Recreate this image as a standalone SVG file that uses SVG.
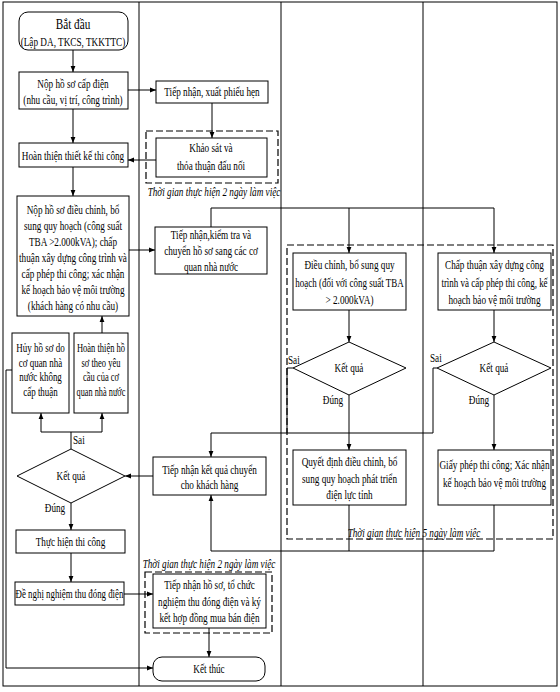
<svg xmlns="http://www.w3.org/2000/svg" width="560" height="692" viewBox="0 0 560 692">
<defs>
<marker id="ah" viewBox="0 0 10 10" refX="10" refY="5" markerWidth="6" markerHeight="6" markerUnits="userSpaceOnUse" orient="auto"><path d="M0,1 L10,5 L0,9 Z" fill="#000"/></marker>
<style>
.b{fill:#fff;stroke:#000;stroke-width:1}
.d{fill:none;stroke:#000;stroke-width:1.2;stroke-dasharray:7 3}
.f{fill:none;stroke:#000;stroke-width:1}
.c{fill:none;stroke:#000;stroke-width:1}
.a{marker-end:url(#ah)}
text{font-family:"Liberation Serif","Times New Roman",serif;font-size:11.5px;fill:#000;text-anchor:middle}
.i{font-style:italic}
.s{text-anchor:start}
.big{font-size:14px}
</style>
</defs>
<rect x="0" y="0" width="560" height="692" fill="#fff"/>
<g id="frame">
<rect class="f" x="3" y="2" width="554" height="684"/>
<line class="f" x1="139" y1="2" x2="139" y2="686"/>
<line class="f" x1="281" y1="2" x2="281" y2="686"/>
<line class="f" x1="423" y1="2" x2="423" y2="686"/>
</g>
<g id="zones">
<rect class="d" x="146" y="131" width="132" height="52"/>
<text class="i" transform="translate(214,196) scale(0.8 1)">Thời gian thực hiện 2 ngày làm việc</text>
<rect class="d" x="287" y="245" width="266" height="294"/>
<text class="i" transform="translate(414,537) scale(0.8 1)">Thời gian thực hiện 5 ngày làm việc</text>
<rect class="d" x="145" y="572" width="127" height="61"/>
<text class="i" transform="translate(209,568) scale(0.8 1)">Thời gian thực hiện 2 ngày làm việc</text>
</g>
<g id="connectors">
<line class="c a" x1="73" y1="50" x2="73" y2="72"/>
<line class="c a" x1="73" y1="109" x2="73" y2="143"/>
<line class="c a" x1="73" y1="167" x2="73" y2="196"/>
<line class="c a" x1="128" y1="90" x2="156" y2="90"/>
<line class="c a" x1="212" y1="103" x2="212" y2="138"/>
<line class="c a" x1="156" y1="160" x2="128" y2="160"/>
<line class="c a" x1="129" y1="250" x2="155" y2="250"/>
<line class="c a" x1="102" y1="333" x2="102" y2="316"/>
<polyline class="c" points="71,449 71,432"/>
<line class="c" x1="41" y1="432" x2="102" y2="432"/>
<line class="c a" x1="41" y1="432" x2="41" y2="413"/>
<line class="c a" x1="102" y1="432" x2="102" y2="413"/>
<line class="c a" x1="153" y1="476" x2="125" y2="476"/>
<line class="c a" x1="71" y1="503" x2="71" y2="530"/>
<line class="c a" x1="71" y1="553" x2="71" y2="582"/>
<line class="c a" x1="124" y1="594" x2="153" y2="594"/>
<line class="c a" x1="209" y1="628" x2="209" y2="657"/>
<polyline class="c a" points="12,370 6,370 6,668 153,668"/>
<polyline class="c" points="211,227 211,208 494,208"/>
<line class="c a" x1="349" y1="208" x2="349" y2="253"/>
<line class="c a" x1="494" y1="208" x2="494" y2="253"/>
<line class="c a" x1="349" y1="310" x2="349" y2="342"/>
<line class="c a" x1="494" y1="310" x2="494" y2="342"/>
<line class="c a" x1="349" y1="395" x2="349" y2="450"/>
<line class="c a" x1="494" y1="395" x2="494" y2="450"/>
<polyline class="c" points="293,368 287,368 287,433"/>
<polyline class="c" points="437,368 433,368 433,433 211,433"/>
<line class="c a" x1="211" y1="433" x2="211" y2="457"/>
<polyline class="c" points="349,505 349,551 211,551"/>
<polyline class="c" points="494,505 494,551 349,551"/>
<line class="c a" x1="211" y1="551" x2="211" y2="495"/>
</g>
<g id="start">
<rect class="b" x="19" y="12" width="109" height="38" rx="9"/>
<text class="big" transform="translate(73,29) scale(0.8 1)">Bắt đầu</text>
<text transform="translate(73,46) scale(0.8 1)">(Lập DA, TKCS, TKKTTC)</text>
</g>
<g id="nop-ho-so">
<rect class="b" x="19" y="72" width="109" height="37"/>
<text transform="translate(73,88) scale(0.8 1)">Nộp hồ sơ cấp điện</text>
<text transform="translate(73,104) scale(0.8 1)">(nhu cầu, vị trí, công trình)</text>
</g>
<g id="tiep-nhan-phieu-hen">
<rect class="b" x="156" y="81" width="112" height="22"/>
<text transform="translate(212,96) scale(0.8 1)">Tiếp nhận, xuất phiếu hẹn</text>
</g>
<g id="khao-sat">
<rect class="b" x="156" y="138" width="111" height="39"/>
<text transform="translate(211,152) scale(0.8 1)">Khảo sát và</text>
<text transform="translate(211,170) scale(0.8 1)">thỏa thuận đấu nối</text>
</g>
<g id="hoan-thien-tk">
<rect class="b" x="19" y="143" width="109" height="24"/>
<text transform="translate(73,160) scale(0.8 1)">Hoàn thiện thiết kế thi công</text>
</g>
<g id="nop-dieu-chinh">
<rect class="b" x="17" y="196" width="112" height="120"/>
<text transform="translate(73,214) scale(0.8 1)">Nộp hồ sơ điều chỉnh, bổ</text>
<text transform="translate(73,230) scale(0.8 1)">sung quy hoạch (công suất</text>
<text transform="translate(73,246) scale(0.8 1)">TBA &gt;2.000kVA); chấp</text>
<text transform="translate(73,262) scale(0.8 1)">thuận xây dựng công trình và</text>
<text transform="translate(73,278) scale(0.8 1)">cấp phép thi công; xác nhận</text>
<text transform="translate(73,294) scale(0.8 1)">kế hoạch bảo vệ môi trường</text>
<text transform="translate(73,310) scale(0.8 1)">(khách hàng có nhu cầu)</text>
</g>
<g id="tiep-nhan-kiem-tra">
<rect class="b" x="155" y="227" width="112" height="47"/>
<text transform="translate(211,239) scale(0.8 1)">Tiếp nhận,kiểm tra và</text>
<text transform="translate(211,255) scale(0.8 1)">chuyển hồ sơ sang các cơ</text>
<text transform="translate(211,271) scale(0.8 1)">quan nhà nước</text>
</g>
<g id="huy-ho-so">
<rect class="b" x="12" y="333" width="57" height="80"/>
<text transform="translate(40.5,352) scale(0.78 1)">Hủy hồ sơ do</text>
<text transform="translate(40.5,367) scale(0.78 1)">cơ quan nhà</text>
<text transform="translate(40.5,381) scale(0.78 1)">nước không</text>
<text transform="translate(40.5,396) scale(0.78 1)">cấp thuận</text>
</g>
<g id="hoan-thien-hs">
<rect class="b" x="74" y="333" width="54" height="80"/>
<text transform="translate(101,352) scale(0.74 1)">Hoàn thiện hồ</text>
<text transform="translate(101,367) scale(0.74 1)">sơ theo yêu</text>
<text transform="translate(101,381) scale(0.74 1)">cầu của cơ</text>
<text transform="translate(101,396) scale(0.72 1)">quan nhà nước</text>
</g>
<g id="ket-qua-1">
<polygon class="b" points="71,449 125,476 71,503 17,476"/>
<text transform="translate(71,480) scale(0.8 1)">Kết quả</text>
<text class="s" transform="translate(73,444) scale(0.8 1)">Sai</text>
<text transform="translate(55,512) scale(0.8 1)">Đúng</text>
</g>
<g id="tiep-nhan-ket-qua">
<rect class="b" x="153" y="457" width="113" height="38"/>
<text transform="translate(209.5,474) scale(0.8 1)">Tiếp nhận kết quả chuyển</text>
<text transform="translate(209.5,489) scale(0.8 1)">cho khách hàng</text>
</g>
<g id="dieu-chinh-qh">
<rect class="b" x="293" y="253" width="113" height="57"/>
<text transform="translate(349.5,269) scale(0.8 1)">Điều chỉnh, bổ sung quy</text>
<text transform="translate(349.5,287) scale(0.78 1)">hoạch (đối với công suất TBA</text>
<text transform="translate(349.5,304) scale(0.8 1)">&gt; 2.000kVA)</text>
</g>
<g id="chap-thuan">
<rect class="b" x="438" y="253" width="113" height="57"/>
<text transform="translate(494.5,269) scale(0.8 1)">Chấp thuận xây dựng công</text>
<text transform="translate(494.5,287) scale(0.78 1)">trình và cấp phép thi công, kế</text>
<text transform="translate(494.5,304) scale(0.8 1)">hoạch bảo vệ môi trường</text>
</g>
<g id="ket-qua-2">
<polygon class="b" points="349,342 406,368 349,395 293,368"/>
<text transform="translate(349,372) scale(0.8 1)">Kết quả</text>
<text class="s" transform="translate(288,364) scale(0.8 1)">Sai</text>
<text transform="translate(333,404) scale(0.8 1)">Đúng</text>
</g>
<g id="ket-qua-3">
<polygon class="b" points="494,342 551,368 494,395 437,368"/>
<text transform="translate(494,372) scale(0.8 1)">Kết quả</text>
<text class="s" transform="translate(430,362) scale(0.8 1)">Sai</text>
<text transform="translate(479,404) scale(0.8 1)">Đúng</text>
</g>
<g id="quyet-dinh">
<rect class="b" x="293" y="450" width="113" height="55"/>
<text transform="translate(349.5,466) scale(0.8 1)">Quyết định điều chỉnh, bổ</text>
<text transform="translate(349.5,483) scale(0.8 1)">sung quy hoạch phát triển</text>
<text transform="translate(349.5,499) scale(0.8 1)">điện lực tỉnh</text>
</g>
<g id="giay-phep">
<rect class="b" x="438" y="450" width="113" height="55"/>
<text transform="translate(494.5,469) scale(0.8 1)">Giấy phép thi công; Xác nhận</text>
<text transform="translate(494.5,487) scale(0.8 1)">kế hoạch bảo vệ môi trường</text>
</g>
<g id="thuc-hien">
<rect class="b" x="16" y="530" width="109" height="23"/>
<text transform="translate(70.5,546) scale(0.8 1)">Thực hiện thi công</text>
</g>
<g id="de-nghi">
<rect class="b" x="15" y="582" width="109" height="23"/>
<text transform="translate(69.5,598) scale(0.77 1)">Đề nghị nghiệm thu đóng điện</text>
</g>
<g id="tiep-nhan-nghiem-thu">
<rect class="b" x="153" y="574" width="113" height="54"/>
<text transform="translate(209.5,589) scale(0.8 1)">Tiếp nhận hồ sơ, tổ chức</text>
<text transform="translate(209.5,606) scale(0.8 1)">nghiệm thu đóng điện và ký</text>
<text transform="translate(209.5,622) scale(0.8 1)">kết hợp đồng mua bán điện</text>
</g>
<g id="end">
<rect class="b" x="153" y="657" width="112" height="24" rx="9"/>
<text transform="translate(209,673) scale(0.8 1)">Kết thúc</text>
</g>
</svg>
